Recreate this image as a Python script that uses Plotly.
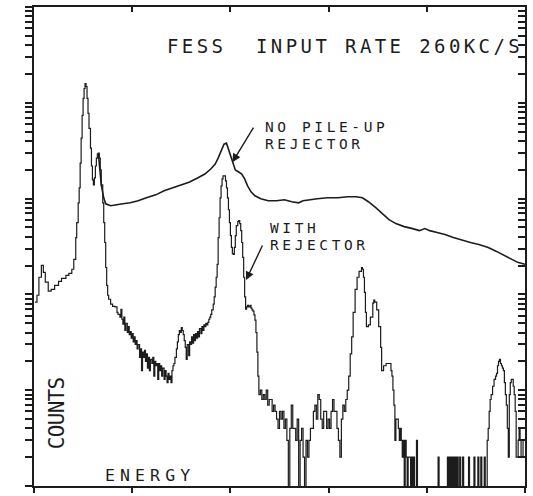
import json
import plotly.graph_objects as go

# Channel axis (0-1000) and log counts axis (1 to 1e5)
x_range = [0, 1000]
x_ticks = [0, 200, 400, 600, 800, 1000]
log_decades = [0, 5]

# Spectrum without pile-up rejection (smooth continuum above the rejected one)
ch_no_rej = [131, 137, 142, 146, 156, 167, 181, 196, 212, 229,
             248, 265, 281, 300, 317, 333, 348, 360, 369, 375,
             381, 387, 392, 396, 400, 404, 410, 417, 423, 429,
             435, 442, 450, 462, 477, 494, 510, 525, 539, 548,
             560, 577, 598, 619, 639, 656, 669, 681, 696, 710,
             723, 737, 754, 771, 785, 796, 806, 821, 837, 854,
             873, 889, 906, 925, 942, 958, 973, 985, 1000]
counts_no_rej = [2990, 1390, 1020, 883, 842, 863, 883, 904, 948, 1019,
                 1094, 1205, 1294, 1390, 1493, 1644, 1806, 2037, 2296, 2650,
                 3206, 3700, 3790, 3290, 2780, 2410, 1990, 1896, 1806, 1604,
                 1358, 1177, 1069, 995, 948, 948, 972, 927, 904, 948,
                 972, 995, 1019, 1019, 1044, 1044, 1019, 927, 803, 695,
                 603, 548, 510, 486, 463, 486, 463, 442, 421, 392,
                 365, 348, 332, 309, 281, 255, 232, 216, 206]

# Spectrum with the pile-up rejector (channel, counts)
ch_rej = [2, 6, 10, 15, 19, 23, 29, 35, 42, 50, 56, 65, 71, 77, 81, 85, 87, 90, 92, 94,
          96, 98, 100, 102, 104, 106, 108, 110, 112, 115, 117, 119, 121, 123, 125, 127, 129, 131, 133, 135,
          137, 140, 142, 144, 146, 148, 150, 152, 156, 160, 165, 169,
          171, 175, 177, 179, 181, 183, 185, 187, 190, 192, 194, 196, 198, 200, 202, 204, 206, 208, 210, 212,
          215, 217, 219, 221, 223, 225, 227, 229, 231, 233, 235, 237, 240, 242, 244, 246, 248, 250, 252, 254,
          256, 258, 260, 262, 265, 267, 269, 271, 273, 275, 277, 279, 281, 283, 285, 287, 290, 292, 294, 296,
          298, 300, 302, 304, 306, 308, 310, 312, 315, 317, 319, 321, 323, 325, 327, 329, 331, 333, 335, 337,
          340, 342, 344, 346, 348, 350, 352, 354, 356, 358, 360, 362, 365, 367, 369, 371, 373, 375, 377, 379,
          381, 383, 385, 387, 390, 392, 394, 396, 398, 400, 402, 404, 406, 408, 410, 412, 415, 417, 419, 421,
          423, 425, 427, 429, 431, 433, 435, 437, 440, 442, 444, 446, 448, 450, 452, 454, 456, 458,
          461, 464, 467, 470, 473, 476, 479, 482, 485, 488, 491, 494, 497, 500, 503, 506, 509, 512, 515, 518,
          521, 524, 527, 530, 533, 536, 539, 542, 545, 548, 551, 554, 557, 560, 563, 566, 569, 572, 575, 578,
          581, 584, 587, 590, 593, 596, 599, 602, 605, 608, 611, 614, 617, 620, 623, 626, 629, 632, 635, 638,
          641, 644, 647, 650, 654, 658, 662, 667, 669, 671, 673, 675, 677, 681, 685, 690, 692, 694, 698, 702,
          706, 708, 712, 717, 721, 723, 727, 729, 731, 733, 735, 737, 740, 742, 744, 746, 748, 750, 752, 754,
          756, 758, 760, 762, 765, 767, 769, 771, 773, 775, 779, 781,
          823, 825, 842, 844, 846, 848, 850, 852, 854, 856, 858, 860, 862, 864, 867, 869, 873, 875,
          885, 887, 896, 898, 904, 906, 910, 912, 917, 919,
          921, 923, 925, 927, 929, 931, 934, 937, 940, 942, 944, 946, 948, 950, 952, 954, 956, 958, 960, 962,
          964, 966, 968, 970, 972, 974, 976, 978, 980, 982, 984, 986, 988, 990, 992, 994, 996, 998, 1000]
counts_rej = [83, 98, 151, 201, 170, 134, 108, 113, 124, 137, 147, 158, 166, 183, 232, 392, 561, 904, 1294, 2350,
              4270, 7400, 11100, 14100, 15900, 14800, 11100, 7760, 5420, 3365, 2190, 1567, 1390, 1644, 2190, 2650, 2915, 2985, 2650, 1990,
              1390, 904, 561, 348, 191, 124, 98, 89, 79, 75, 74, 65,
              62, 58, 70, 55, 49, 58, 42, 50, 40, 46, 38, 41, 35, 39, 32, 36, 30, 33, 27, 30,
              22, 27, 16, 25, 22, 26, 20, 24, 17, 22, 16, 21, 19, 22, 14, 20, 18, 19, 13, 19,
              16, 18, 14, 17, 13, 16, 14, 12, 15, 13, 14, 12, 16, 18, 19, 22, 27, 32, 38, 42,
              40, 45, 42, 38, 33, 28, 21, 30, 23, 32, 30, 36, 31, 38, 33, 39, 35, 41, 36, 44,
              39, 46, 42, 48, 46, 50, 48, 51, 55, 58, 62, 69, 79, 94, 119, 151, 206, 392, 631, 1019,
              1358, 1604, 1725, 1725, 1530, 1294, 1019, 765, 561, 411, 309, 267, 261, 309, 411, 522, 574, 589, 548, 463,
              348, 243, 151, 94, 70, 74, 77, 74, 77, 72, 69, 67, 61, 54, 40, 25, 14, 9,
              10, 8, 9, 8, 10, 7, 8, 8, 6, 7, 6, 5, 4, 6, 5, 6, 4, 5, 3, 0,
              4, 7, 4, 4, 3, 5, 0, 3, 4, 2, 0, 3, 2, 3, 4, 4, 6, 7, 5, 9,
              8, 5, 4, 6, 6, 4, 5, 4, 6, 8, 6, 6, 4, 3, 2, 5, 7, 6, 8, 10,
              14, 24, 36, 65, 113, 151, 174, 191, 183, 151, 105, 65, 46, 48, 58, 81, 87, 83, 69, 46,
              28, 16, 18, 19, 19, 19, 16, 14, 10, 7, 3, 5, 5, 4, 3, 4, 3, 2, 3, 0,
              3, 2, 0, 2, 2, 0, 2, 0, 2, 0, 3, 0,
              2, 0, 2, 0, 2, 0, 2, 0, 2, 0, 2, 0, 2, 0, 2, 0, 2, 0,
              2, 0, 2, 0, 2, 0, 2, 0, 2, 0,
              0, 3, 4, 6, 8, 9, 11, 13, 14, 15, 18, 20, 21, 19, 18, 17, 16, 12, 9, 7,
              4, 2, 9, 12, 13, 13, 11, 9, 6, 2, 2, 3, 4, 3, 2, 2, 3, 3, 3]

# Empty channels cannot sit on a log axis: draw them just below the floor so the stroke runs off the frame
ZERO_FLOOR = 0.4
counts_rej_plot = [c if c > 0 else ZERO_FLOOR for c in counts_rej]

ink = "#1c1c1c"
mono = "DejaVu Sans Mono"

log_ticks = [k * 10 ** d for d in range(log_decades[1]) for k in range(1, 10)] + [10 ** log_decades[1]]

fig = go.Figure()
fig.add_trace(go.Scatter(x=ch_rej, y=counts_rej_plot, mode="lines", line=dict(color=ink, width=1.2, shape="hv"),
                         hoverinfo="skip", name="WITH REJECTOR"))
fig.add_trace(go.Scatter(x=ch_no_rej, y=counts_no_rej, mode="lines", line=dict(color=ink, width=1.6),
                         hoverinfo="skip", name="NO PILE-UP REJECTOR"))
# carrier for the mirrored (top/right) frame axes
fig.add_trace(go.Scatter(x=ch_no_rej, y=counts_no_rej, xaxis="x2", yaxis="y2", mode="lines",
                         opacity=0, hoverinfo="skip", showlegend=False))

axis_common = dict(showgrid=False, zeroline=False, showline=True, linewidth=2, linecolor=ink,
                   tickcolor=ink, tickwidth=1.5, showticklabels=False)

fig.update_layout(
    width=533, height=496,
    margin=dict(l=34, r=8, t=7, b=5),
    paper_bgcolor="white", plot_bgcolor="white",
    showlegend=False,
    xaxis=dict(range=x_range, tickvals=x_ticks, ticks="outside", ticklen=5, **axis_common),
    xaxis2=dict(range=x_range, tickvals=x_ticks, ticks="inside", ticklen=5, overlaying="x",
                side="top", anchor="y2", **axis_common),
    yaxis=dict(type="log", range=log_decades, tickvals=log_ticks, ticks="outside", ticklen=7, **axis_common),
    yaxis2=dict(type="log", range=log_decades, tickvals=log_ticks, ticks="inside", ticklen=7,
                overlaying="y", side="right", anchor="x2", **axis_common),
)

# text labels: (text, x, y, size, letter spacing px)
labels = [
    ("FESS\u00a0\u00a0INPUT RATE 260KC/S", 0.266, 0.919, 19, 3.4),
    ("NO PILE-UP", 0.466, 0.750, 14.5, 3.6),
    ("REJECTOR", 0.466, 0.713, 14.5, 3.6),
    ("WITH", 0.477, 0.539, 14.5, 3.6),
    ("REJECTOR", 0.477, 0.504, 14.5, 3.6),
    ("ENERGY", 0.141, 0.022, 16.5, 5.1),
]
spacing = {}
for i, (txt, xp, yp, size, ls) in enumerate(labels):
    fig.add_annotation(text=txt, x=xp, y=yp, xref="paper", yref="paper", xanchor="left", yanchor="middle",
                       align="left", showarrow=False, font=dict(family=mono, size=size, color=ink))
    spacing[str(i)] = ls

fig.add_annotation(text="COUNTS", x=0.047, y=0.152, xref="paper", yref="paper", textangle=-90,
                   xanchor="center", yanchor="middle", showarrow=False,
                   font=dict(family=mono, size=21, color=ink))
spacing[str(len(labels))] = -0.7

# pointer arrows to the two spectra
for hx, hy, dx, dy in [(0.404, 0.676, 22, -36), (0.432, 0.430, 17, -36)]:
    fig.add_annotation(text="", x=hx, y=hy, xref="paper", yref="paper", ax=dx, ay=dy,
                       showarrow=True, arrowhead=2, arrowsize=1.2, arrowwidth=1.4, arrowcolor=ink, standoff=0)

post = """
var gd = document.getElementById('{plot_id}');
var sp = %s;
gd.querySelectorAll('g.annotation').forEach(function(g){
  var i = g.getAttribute('data-index');
  if (sp[i] !== undefined) {
    g.querySelectorAll('text').forEach(function(t){
      t.setAttribute('letter-spacing', sp[i] + 'px');
      t.style.letterSpacing = sp[i] + 'px';
    });
  }
});
""" % json.dumps(spacing)

fig.write_html("out.html", post_script=post, config={"displayModeBar": False})
